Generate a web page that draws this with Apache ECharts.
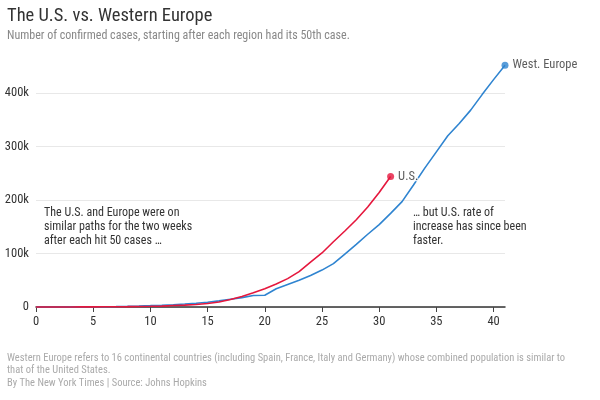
<!DOCTYPE html>
<html><head><meta charset="utf-8">
<script src="https://cdn.jsdelivr.net/npm/echarts@6/dist/echarts.min.js"></script>
<style>html,body{margin:0;padding:0;background:#fff}#c{width:600px;height:400px}</style>
</head><body><div id="c"></div>
<script>
const days = Array.from({length: 42}, (_, i) => String(i));
const usCases = [60, 75, 100, 120, 210, 260, 400, 540, 700, 1000, 1300, 1700, 2700, 3500, 4600, 6400, 9400, 14000, 19500, 26500, 34000, 43000, 53000, 66000, 84000, 101000, 122000, 142000, 163000, 187000, 214000, 244000];
const euCases = [50, 80, 120, 200, 300, 400, 600, 900, 1300, 1800, 2500, 3300, 4300, 5500, 7000, 9000, 11500, 14500, 17500, 21500, 22000, 34000, 42000, 50000, 59000, 69000, 81000, 99000, 117000, 136000, 154000, 175000, 197000, 228000, 260000, 290000, 320000, 343000, 368000, 397000, 425000, 452000];
const yTicks = [0, 100000, 200000, 300000, 400000];
const usLabel = 'U.S.';
const euLabel = 'West. Europe';

const FONT = '"Roboto Condensed", "Liberation Sans", Arial, sans-serif';
const RED = '#e5173d', BLUE = '#2f84d0';
const chart = echarts.init(document.getElementById('c'), null, {renderer: 'canvas'});
chart.setOption({
  animation: false,
  textStyle: {fontFamily: FONT},
  grid: {left: 36, right: 95, top: 93, bottom: 93, containLabel: false},
  xAxis: {
    type: 'category', data: days, boundaryGap: false,
    axisLine: {lineStyle: {color: '#333', width: 1.5}},
    axisTick: {interval: (i) => i % 5 === 0, length: 5, lineStyle: {color: '#444'}},
    axisLabel: {interval: (i) => i % 5 === 0, color: '#333', fontSize: 12.5, margin: 8, fontFamily: FONT},
    splitLine: {show: false}
  },
  yAxis: {
    type: 'value', min: yTicks[0], max: yTicks[yTicks.length - 1], interval: 100000,
    axisLine: {show: false}, axisTick: {show: false},
    axisLabel: {color: '#333', fontSize: 12.5, margin: 7, fontFamily: FONT,
      formatter: (v) => v === 0 ? '0' : (v / 1000) + 'k'},
    splitLine: {lineStyle: {color: '#e8e8e8', width: 1}}
  },
  series: [
    {type: 'line', data: euCases, showSymbol: false, clip: false, z: 2,
      lineStyle: {color: BLUE, width: 1.6}},
    {type: 'line', data: usCases, showSymbol: false, clip: false, z: 3,
      lineStyle: {color: RED, width: 1.6}},
    {type: 'scatter', clip: false, z: 5, symbolSize: 7,
      data: [[String(usCases.length - 1), usCases[usCases.length - 1]]],
      itemStyle: {color: RED},
      label: {show: true, position: 'right', distance: 4, formatter: usLabel, color: '#333', fontSize: 12.5,
        fontFamily: FONT, textBorderColor: '#fff', textBorderWidth: 3}},
    {type: 'scatter', clip: false, z: 5, symbolSize: 7,
      data: [[String(euCases.length - 1), euCases[euCases.length - 1]]],
      itemStyle: {color: BLUE},
      label: {show: true, position: 'right', distance: 4, formatter: euLabel, color: '#333', fontSize: 12.5,
        fontFamily: FONT}}
  ],
  graphic: [
    {type: 'text', left: 7, top: 7, style: {text: 'The U.S. vs. Western Europe', fill: '#333', font: '18.5px ' + FONT}},
    {type: 'text', left: 7, top: 30, style: {text: 'Number of confirmed cases, starting after each region had its 50th case.', fill: '#888', font: '12px ' + FONT}},
    {type: 'text', left: 44, top: 206, style: {text: 'The U.S. and Europe were on\nsimilar paths for the two weeks\nafter each hit 50 cases \u2026', fill: '#333', font: '12px ' + FONT, lineHeight: 14}},
    {type: 'text', left: 413, top: 206, style: {text: '\u2026 but U.S. rate of\nincrease has since been\nfaster.', fill: '#333', font: '12px ' + FONT, lineHeight: 14}},
    {type: 'text', left: 7, top: 352, style: {text: 'Western Europe refers to 16 continental countries (including Spain, France, Italy and Germany) whose combined population is similar to\nthat of the United States.', fill: '#aaa', font: '10.5px ' + FONT, lineHeight: 12}},
    {type: 'text', left: 7, top: 378, style: {text: 'By The New York Times | Source: Johns Hopkins', fill: '#aaa', font: '10.5px ' + FONT}}
  ]
});
</script></body></html>
